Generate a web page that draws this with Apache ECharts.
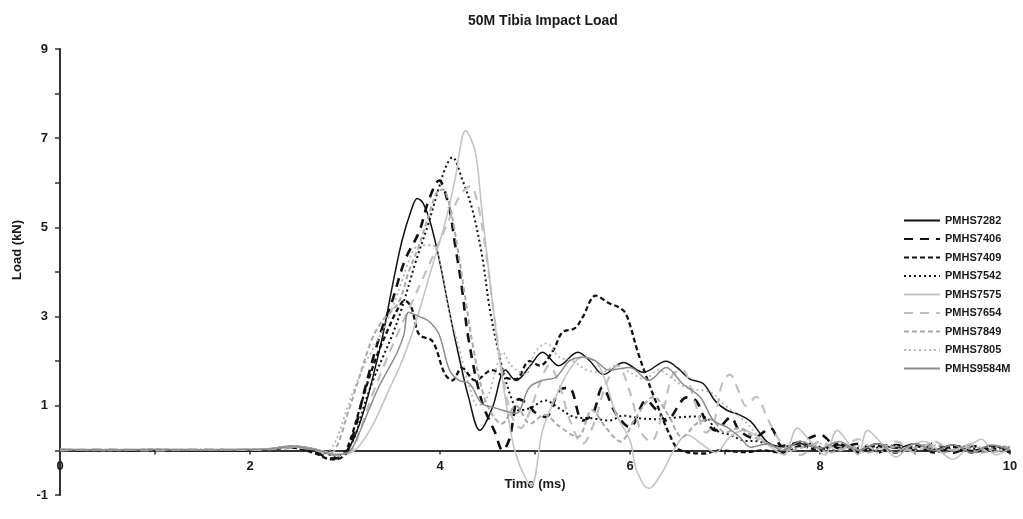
<!DOCTYPE html>
<html>
<head>
<meta charset="utf-8">
<script src="https://cdn.jsdelivr.net/npm/echarts@6/dist/echarts.min.js"></script>
<style>html,body{margin:0;padding:0;background:#fff}#chart{width:1023px;height:519px}</style>
</head>
<body>
<div id="chart"></div>
<script>
// ---- data (time in ms, load in kN) ----
const seriesNames = ['PMHS7282','PMHS7406','PMHS7409','PMHS7542','PMHS7575','PMHS7654','PMHS7849','PMHS7805','PMHS9584M'];
const xTickLabels = [0,2,4,6,8,10];
const yTickLabels = [-1,1,3,5,7,9];

const pmhs7282 = [[0,0.02],[0.5,0.01],[1,0.01],[1.5,0.01],[2,0.01],[2.2,0.03],[2.45,0.1],[2.7,0.02],[2.9,-0.1],[3.0,-0.05],[3.1,0.3],[3.2,0.9],[3.3,1.7],[3.4,2.6],[3.5,3.7],[3.6,4.7],[3.7,5.4],[3.76,5.65],[3.82,5.55],[3.9,5.1],[4.0,4.2],[4.1,3.1],[4.2,2.1],[4.3,1.2],[4.42,0.45],[4.55,0.95],[4.69,1.8],[4.8,1.57],[4.95,1.9],[5.08,2.2],[5.25,1.9],[5.45,2.2],[5.58,2.0],[5.72,1.7],[5.93,1.97],[6.14,1.75],[6.38,2.0],[6.5,1.85],[6.63,1.6],[6.77,1.5],[6.9,1.1],[7.02,0.9],[7.15,0.8],[7.27,0.65],[7.37,0.38],[7.45,0.18],[7.6,0.08],[7.8,0.15],[8.0,0.05],[8.2,0.12],[8.4,0.0],[8.6,0.15],[8.8,0.05],[9.0,0.15],[9.2,0.02],[9.4,0.12],[9.6,0.0],[9.8,0.1],[10,0.0]];
const pmhs7406 = [[0,0.0],[0.5,0.01],[1,0.0],[1.5,0.01],[2,0.0],[2.2,0.02],[2.45,0.07],[2.7,-0.05],[2.85,-0.18],[3.0,-0.1],[3.1,0.45],[3.2,1.3],[3.3,2.1],[3.4,2.8],[3.49,3.3],[3.63,4.26],[3.78,4.9],[3.88,5.6],[3.99,6.05],[4.09,5.5],[4.16,4.6],[4.23,3.65],[4.3,2.5],[4.44,1.1],[4.58,0.4],[4.66,0.0],[4.73,0.25],[4.83,1.15],[4.92,1.05],[5.0,0.85],[5.11,0.75],[5.26,1.35],[5.36,1.4],[5.5,0.67],[5.61,0.83],[5.71,1.41],[5.85,0.83],[6.0,0.52],[6.17,1.12],[6.28,0.9],[6.38,0.67],[6.6,1.19],[6.7,1.1],[6.8,0.65],[6.9,0.45],[7.06,0.74],[7.15,0.45],[7.3,0.28],[7.48,0.5],[7.6,0.1],[7.8,0.2],[8.0,0.35],[8.2,0.05],[8.4,0.15],[8.6,-0.05],[8.8,0.12],[9.0,0.0],[9.2,0.15],[9.4,-0.05],[9.6,0.1],[9.8,0.0],[10,0.05]];
const pmhs7409 = [[0,0.01],[0.5,0.0],[1,0.01],[1.5,0.0],[2,0.01],[2.2,0.02],[2.45,0.06],[2.7,-0.08],[2.85,-0.2],[2.97,-0.15],[3.05,0.2],[3.15,0.9],[3.25,1.6],[3.35,2.2],[3.45,2.7],[3.55,3.15],[3.63,3.36],[3.7,3.2],[3.78,2.6],[3.92,2.45],[4.05,1.72],[4.13,1.57],[4.23,1.85],[4.37,1.57],[4.55,1.8],[4.69,1.63],[4.8,1.6],[4.94,2.0],[5.05,1.9],[5.19,2.24],[5.29,2.65],[5.42,2.74],[5.5,2.98],[5.64,3.47],[5.78,3.3],[5.89,3.2],[5.96,3.05],[6.1,2.09],[6.28,1.05],[6.46,0.16],[6.53,0.0],[6.77,-0.07],[6.95,0.0],[7.2,-0.04],[7.4,0.0],[7.6,-0.05],[7.8,0.1],[8.0,0.0],[8.2,0.15],[8.4,-0.05],[8.6,0.1],[8.8,-0.05],[9.0,0.1],[9.2,-0.05],[9.4,0.08],[9.6,-0.05],[9.8,0.05],[10,-0.05]];
const pmhs7542 = [[0,0.0],[0.5,0.01],[1,0.0],[1.5,0.01],[2,0.0],[2.2,0.02],[2.45,0.08],[2.7,0.0],[2.9,-0.12],[3.0,-0.05],[3.1,0.3],[3.2,1.0],[3.3,1.6],[3.4,2.1],[3.5,2.6],[3.6,3.2],[3.74,4.2],[3.88,5.1],[3.99,5.9],[4.07,6.4],[4.13,6.57],[4.23,6.1],[4.34,5.4],[4.44,4.4],[4.53,3.1],[4.65,1.9],[4.76,1.12],[4.83,0.9],[4.95,0.95],[5.11,1.12],[5.25,0.95],[5.43,0.74],[5.6,0.72],[5.78,0.67],[5.93,0.78],[6.1,0.72],[6.3,0.7],[6.5,0.74],[6.7,0.76],[6.8,0.74],[6.91,0.45],[7.05,0.35],[7.2,0.22],[7.35,0.2],[7.5,0.1],[7.7,0.05],[7.9,0.15],[8.1,0.0],[8.3,0.1],[8.5,0.0],[8.7,0.12],[8.9,0.02],[9.1,0.1],[9.3,0.0],[9.5,0.1],[9.7,0.0],[9.9,0.08],[10,0.05]];
const pmhs7575 = [[0,0.03],[0.5,0.02],[1,0.03],[1.5,0.02],[2,0.03],[2.2,0.04],[2.45,0.08],[2.7,0.02],[2.9,-0.08],[3.05,-0.05],[3.15,0.1],[3.3,0.6],[3.45,1.3],[3.6,2.0],[3.75,2.9],[3.9,4.0],[4.06,5.15],[4.16,6.1],[4.27,7.17],[4.37,6.7],[4.44,5.4],[4.52,3.9],[4.6,2.5],[4.7,1.0],[4.8,-0.1],[4.96,-0.78],[5.08,0.45],[5.22,1.2],[5.36,1.8],[5.5,2.09],[5.64,2.0],[5.75,1.5],[5.85,0.83],[6.0,0.22],[6.07,-0.45],[6.2,-0.85],[6.35,-0.45],[6.46,0.0],[6.6,0.35],[6.75,0.15],[6.9,-0.05],[7.05,0.3],[7.2,0.45],[7.35,0.3],[7.5,0.05],[7.62,-0.1],[7.76,0.5],[7.9,0.2],[8.05,-0.1],[8.18,0.45],[8.32,0.1],[8.4,-0.1],[8.5,0.45],[8.65,0.15],[8.8,-0.15],[8.95,0.1],[9.1,0.2],[9.25,0.0],[9.4,-0.2],[9.55,0.05],[9.7,0.25],[9.85,-0.1],[10,0.05]];
const pmhs7654 = [[0,0.0],[0.5,0.02],[1,0.0],[1.5,0.02],[2,0.01],[2.2,0.02],[2.45,0.07],[2.7,0.0],[2.9,-0.1],[3.05,-0.05],[3.15,0.4],[3.28,1.2],[3.42,1.95],[3.55,2.6],[3.7,3.3],[3.85,4.0],[4.0,4.7],[4.12,5.3],[4.22,5.75],[4.32,5.92],[4.4,5.5],[4.48,4.5],[4.56,3.2],[4.65,1.8],[4.75,0.8],[4.85,0.5],[4.95,0.9],[5.05,1.5],[5.15,1.9],[5.25,1.5],[5.38,0.6],[5.5,0.15],[5.62,0.6],[5.75,1.5],[5.87,1.9],[6.0,1.3],[6.12,0.4],[6.22,0.2],[6.35,0.9],[6.45,1.7],[6.55,1.8],[6.68,1.1],[6.8,0.4],[6.88,0.6],[6.97,1.5],[7.05,1.7],[7.15,1.3],[7.22,1.0],[7.33,1.2],[7.44,0.75],[7.55,0.3],[7.65,0.05],[7.8,-0.1],[8.0,0.2],[8.2,0.0],[8.4,0.25],[8.6,0.0],[8.8,0.2],[9.0,-0.05],[9.2,0.2],[9.4,0.0],[9.6,0.15],[9.8,-0.05],[10,0.1]];
const pmhs7849 = [[0,0.02],[0.5,0.0],[1,0.02],[1.5,0.01],[2,0.02],[2.2,0.03],[2.45,0.1],[2.65,0.04],[2.8,-0.05],[2.89,0.0],[3.04,0.9],[3.14,1.57],[3.28,2.47],[3.39,2.9],[3.56,3.3],[3.67,4.0],[3.78,4.6],[3.9,5.4],[3.97,5.8],[4.03,5.85],[4.1,5.5],[4.18,4.6],[4.26,3.5],[4.35,2.3],[4.45,1.3],[4.55,0.8],[4.65,0.6],[4.8,1.0],[4.95,0.6],[5.1,0.8],[5.25,0.55],[5.45,0.3],[5.6,0.9],[5.75,0.5],[5.9,0.2],[6.05,0.7],[6.25,1.2],[6.4,0.8],[6.55,0.3],[6.7,0.6],[6.85,0.7],[7.0,0.4],[7.15,0.5],[7.3,0.3],[7.5,0.1],[7.7,0.0],[7.9,0.12],[8.1,-0.05],[8.3,0.1],[8.5,-0.05],[8.7,0.1],[8.9,0.0],[9.1,0.12],[9.3,-0.05],[9.5,0.08],[9.7,-0.05],[9.9,0.1],[10,0.05]];
const pmhs7805 = [[0,0.01],[0.5,0.02],[1,0.01],[1.5,0.02],[2,0.01],[2.2,0.03],[2.45,0.09],[2.65,0.03],[2.8,-0.03],[2.9,0.2],[3.0,0.8],[3.1,1.4],[3.2,1.9],[3.3,2.3],[3.4,2.7],[3.5,3.2],[3.6,3.8],[3.7,4.4],[3.78,4.6],[3.92,4.6],[4.0,4.2],[4.1,3.1],[4.2,2.3],[4.3,1.5],[4.4,1.0],[4.5,1.2],[4.6,1.9],[4.66,2.2],[4.75,1.9],[4.9,1.7],[5.0,2.2],[5.12,2.4],[5.25,2.1],[5.4,2.0],[5.55,1.8],[5.7,1.75],[5.85,1.9],[6.0,1.75],[6.15,1.6],[6.3,1.8],[6.45,1.6],[6.6,1.4],[6.85,1.3],[6.98,1.05],[7.2,0.67],[7.4,0.22],[7.6,0.05],[7.8,0.05],[8.0,0.15],[8.2,0.0],[8.4,0.1],[8.6,-0.05],[8.8,0.1],[9.0,0.0],[9.2,0.12],[9.4,0.0],[9.6,0.1],[9.8,-0.05],[10,0.05]];
const pmhs9584m = [[0,0.02],[0.5,0.01],[1,0.02],[1.5,0.01],[2,0.02],[2.2,0.03],[2.45,0.08],[2.7,0.01],[2.9,-0.1],[3.05,-0.02],[3.15,0.4],[3.25,0.9],[3.35,1.4],[3.45,1.8],[3.55,2.2],[3.62,2.6],[3.67,3.1],[3.78,3.0],[3.88,2.9],[3.99,2.6],[4.1,1.8],[4.2,1.57],[4.31,1.5],[4.44,1.05],[4.55,0.97],[4.66,0.9],[4.8,0.83],[4.94,1.41],[5.08,1.57],[5.22,1.64],[5.36,2.0],[5.5,2.09],[5.64,2.0],[5.78,1.8],[6.0,1.86],[6.2,1.57],[6.38,1.86],[6.55,1.5],[6.74,1.19],[6.88,0.67],[7.02,0.52],[7.16,0.29],[7.27,0.07],[7.45,0.15],[7.6,0.0],[7.8,0.2],[8.0,0.05],[8.2,0.2],[8.4,0.0],[8.6,0.15],[8.8,-0.05],[9.0,0.15],[9.2,0.0],[9.4,0.12],[9.6,-0.05],[9.8,0.12],[10,0.0]];

const seriesData = [pmhs7282, pmhs7406, pmhs7409, pmhs7542, pmhs7575, pmhs7654, pmhs7849, pmhs7805, pmhs9584m];
const seriesStyles = [
  {color:'#111111', width:1.5, type:'solid'},
  {color:'#111111', width:2.6, type:[9,7]},
  {color:'#111111', width:2.3, type:[5,3]},
  {color:'#111111', width:2.0, type:[2,3]},
  {color:'#c4c4c4', width:1.6, type:'solid'},
  {color:'#c0c0c0', width:2.2, type:[9,7]},
  {color:'#a9a9a9', width:2.0, type:[5,3]},
  {color:'#b5b5b5', width:1.8, type:[2,3]},
  {color:'#8c8c8c', width:1.5, type:'solid'}
];

const chart = echarts.init(document.getElementById('chart'));
chart.setOption({
  animation: false,
  backgroundColor: '#ffffff',
  title: {
    text: '50M Tibia Impact Load', left: 463, top: 9,
    textStyle: {fontFamily: 'Liberation Sans, Arial', fontWeight: 'bold', fontSize: 14, color: '#1a1a1a'}
  },
  legend: {
    orient: 'vertical', left: 898, top: 210, itemWidth: 36, itemHeight: 12, itemGap: 7.5,
    data: seriesNames,
    itemStyle: {opacity: 0},
    textStyle: {fontFamily: 'Liberation Sans, Arial', fontWeight: 'bold', fontSize: 11, color: '#1a1a1a'}
  },
  grid: {left: 60, right: 13, top: 49, bottom: 24, outerBoundsMode: 'none', containLabel: false},
  xAxis: {
    type: 'value', min: 0, max: 10, interval: 1, position: 'bottom', offset: -44.6,
    name: 'Time (ms)', nameLocation: 'middle', nameGap: 24,
    nameTextStyle: {fontFamily: 'Liberation Sans, Arial', fontWeight: 'bold', fontSize: 13, color: '#1a1a1a'},
    axisLine: {onZero: false, lineStyle: {color: '#333', width: 2}},
    axisTick: {show: true, length: 4, lineStyle: {color: '#333', width: 1.5}},
    axisLabel: {margin: 10, fontFamily: 'Liberation Sans, Arial', fontWeight: 'bold', fontSize: 13, color: '#1a1a1a',
      formatter: v => (xTickLabels.indexOf(v) >= 0 ? String(v) : '')},
    splitLine: {show: false}
  },
  yAxis: {
    type: 'value', min: -1, max: 9, interval: 1,
    name: 'Load (kN)', nameLocation: 'middle', nameGap: 36, nameRotate: 90,
    nameTextStyle: {fontFamily: 'Liberation Sans, Arial', fontWeight: 'bold', fontSize: 13, color: '#1a1a1a', padding: [0,0,0,44]},
    axisLine: {show: true, onZero: false, lineStyle: {color: '#333', width: 2}},
    axisTick: {show: true, length: 5, lineStyle: {color: '#333', width: 1.5}},
    axisLabel: {margin: 12, fontFamily: 'Liberation Sans, Arial', fontWeight: 'bold', fontSize: 13, color: '#1a1a1a',
      formatter: v => (yTickLabels.indexOf(v) >= 0 ? String(v) : '')},
    splitLine: {show: false}
  },
  series: seriesNames.map((n, i) => ({
    name: n, type: 'line', data: seriesData[i], symbol: 'none', smooth: 0.35,
    lineStyle: seriesStyles[i], itemStyle: {color: seriesStyles[i].color}
  }))
});
</script>
</body>
</html>
